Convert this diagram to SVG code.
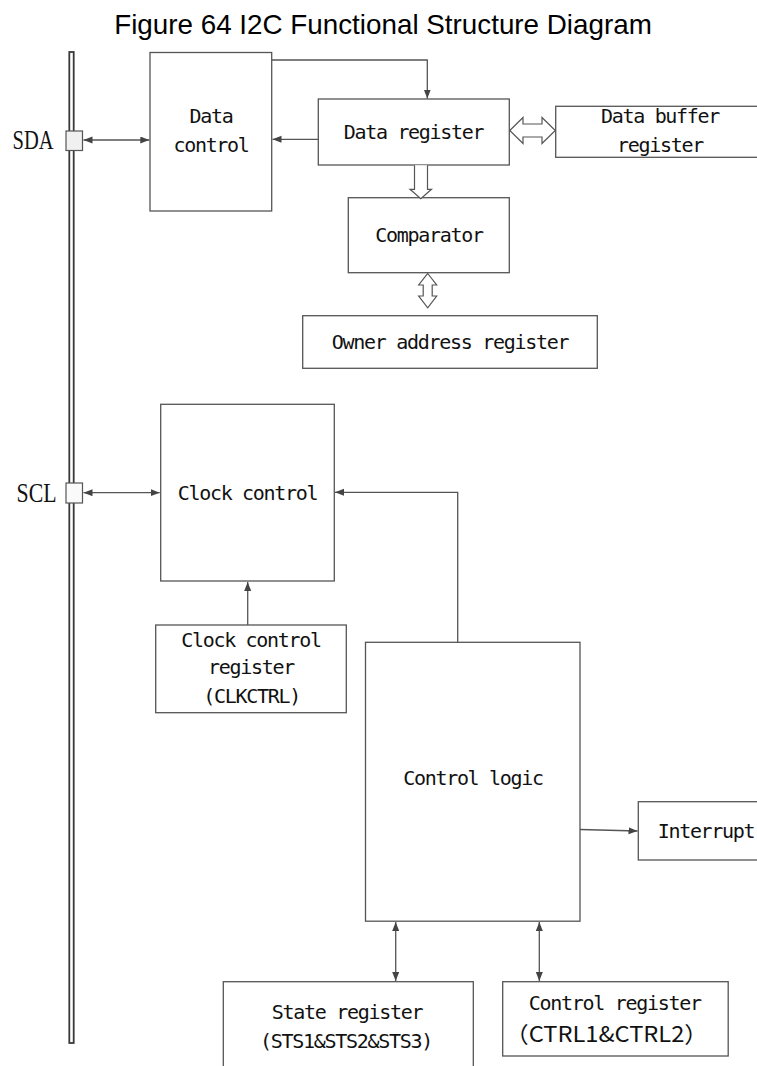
<svg xmlns="http://www.w3.org/2000/svg" width="757" height="1066" viewBox="0 0 757 1066">
<style>
.box{fill:#fff;stroke:#555;stroke-width:1.3}
.lbl{font-family:"DejaVu Sans Mono","Liberation Mono",monospace;font-size:20px;letter-spacing:-1.3px;fill:#111;text-anchor:middle}
.pin{font-family:"Liberation Serif",serif;font-size:27.5px;fill:#111}
.ln{fill:none;stroke:#555;stroke-width:1.3}
.hollow{fill:#fff;stroke:#555;stroke-width:1.2;stroke-linejoin:miter}
.title{font-family:"Liberation Sans",Arial,sans-serif;font-size:27.8px;fill:#000;text-anchor:middle}
</style>
<defs>
<marker id="ah" markerUnits="userSpaceOnUse" markerWidth="10" markerHeight="8" refX="9" refY="3.5" orient="auto-start-reverse">
<path d="M0,0 L9,3.5 L0,7 z" fill="#444"/>
</marker>
</defs>
<rect width="757" height="1066" fill="#fff"/>
<text class="title" x="383" y="34">Figure 64 I2C Functional Structure Diagram</text>

<g id="bus">
<rect x="69.3" y="52" width="4.4" height="991" fill="#fff" stroke="#3a3a3a" stroke-width="1.8"/>
</g>
<g id="sda">
<rect x="66" y="131" width="16.5" height="19.5" fill="#f0f0f0" stroke="#555" stroke-width="1.2"/>
<text class="pin" x="12.5" y="149.3" textLength="41" lengthAdjust="spacingAndGlyphs">SDA</text>
</g>
<g id="scl">
<rect x="66" y="483" width="16.5" height="20" fill="#fafafa" stroke="#555" stroke-width="1.2"/>
<text class="pin" x="16.5" y="501.7" textLength="40" lengthAdjust="spacingAndGlyphs">SCL</text>
</g>

<g id="data-control">
<rect class="box" x="150" y="52.5" width="121.7" height="158.5"/>
<text class="lbl" x="211" y="122.7">Data</text>
<text class="lbl" x="211" y="151.7">control</text>
</g>
<g id="data-register">
<rect class="box" x="318.3" y="99" width="191" height="66"/>
<text class="lbl" x="413.5" y="139.3">Data register</text>
</g>
<g id="data-buffer-register">
<rect class="box" x="555.7" y="106.3" width="215" height="51"/>
<text class="lbl" x="660" y="123.3">Data buffer</text>
<text class="lbl" x="660" y="152.3">register</text>
</g>
<g id="comparator">
<rect class="box" x="348.3" y="197.7" width="161" height="75"/>
<text class="lbl" x="429" y="241.7">Comparator</text>
</g>
<g id="owner-address-register">
<rect class="box" x="302.7" y="315.7" width="294.6" height="52.6"/>
<text class="lbl" x="450" y="349.3">Owner address register</text>
</g>
<g id="clock-control">
<rect class="box" x="160.7" y="404.3" width="173.6" height="176.7"/>
<text class="lbl" x="247.5" y="500">Clock control</text>
</g>
<g id="clock-control-register">
<rect class="box" x="155.7" y="625" width="190.6" height="87.7"/>
<text class="lbl" x="251" y="646.7">Clock control</text>
<text class="lbl" x="251" y="674.3">register</text>
<text class="lbl" x="251.7" y="703.3">(CLKCTRL)</text>
</g>
<g id="control-logic">
<rect class="box" x="365.5" y="642.3" width="214.5" height="278.9"/>
<text class="lbl" x="473" y="785">Control logic</text>
</g>
<g id="interrupt">
<rect class="box" x="638.3" y="801.7" width="140" height="58.3"/>
<text class="lbl" x="706" y="838.3">Interrupt</text>
</g>
<g id="state-register">
<rect class="box" x="223.3" y="981.7" width="250" height="100"/>
<text class="lbl" x="347" y="1019.3">State register</text>
<text class="lbl" x="346" y="1048.3">(STS1&amp;STS2&amp;STS3)</text>
</g>
<g id="control-register">
<rect class="box" x="502.7" y="981.7" width="225.5" height="74.3"/>
<text class="lbl" x="614.7" y="1010">Control register</text>
<text x="505" y="1042" font-family="'Noto Sans CJK SC',sans-serif" font-size="22" fill="#111" letter-spacing="0" textLength="203" lengthAdjust="spacingAndGlyphs">（CTRL1&amp;CTRL2）</text>
</g>

<g id="connectors">
<line class="ln" x1="83.5" y1="140" x2="149.3" y2="140" marker-start="url(#ah)" marker-end="url(#ah)"/>
<path class="ln" d="M271.7,60 H427.3 V98.5" marker-end="url(#ah)"/>
<line class="ln" x1="318.3" y1="139.3" x2="272.5" y2="139.3" marker-end="url(#ah)"/>
<path class="hollow" d="M509.8,130.5 L523,117.5 V124 H542 V117.5 L555.3,130.5 L542,143.5 V137 H523 V143.5 Z"/>
<path class="hollow" d="M414.5,165.3 V189.3 H410 L420.8,198.8 L431.5,189.3 H427.5 V165.3"/>
<path class="hollow" d="M427.7,273.5 L436.7,285 H432.2 V296 H436.7 L427.7,307.8 L418.7,296 H423.2 V285 H418.7 Z"/>
<line class="ln" x1="83.5" y1="492.7" x2="159.7" y2="492.7" marker-start="url(#ah)" marker-end="url(#ah)"/>
<path class="ln" d="M457.7,642.3 V492.3 H335" marker-end="url(#ah)"/>
<line class="ln" x1="247.7" y1="625" x2="247.7" y2="582" marker-end="url(#ah)"/>
<line class="ln" x1="395.7" y1="922" x2="395.7" y2="981" marker-start="url(#ah)" marker-end="url(#ah)"/>
<line class="ln" x1="539.3" y1="922" x2="539.3" y2="981" marker-start="url(#ah)" marker-end="url(#ah)"/>
<line class="ln" x1="580" y1="829.5" x2="637.5" y2="831" marker-end="url(#ah)"/>
</g>
</svg>
